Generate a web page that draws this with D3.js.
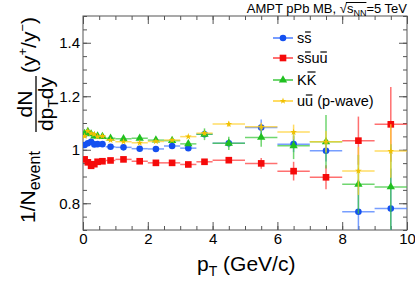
<!DOCTYPE html>
<html><head><meta charset="utf-8">
<script src="https://cdn.jsdelivr.net/npm/d3@7"></script>
<style>body{margin:0;background:#fff}svg{display:block}text{font-family:"Liberation Sans",Arial,sans-serif;fill:#000}</style>
</head><body><svg id="c" width="415" height="281"></svg>
<script>
// ---------- data ----------
const binEdges = [0,0.1,0.2,0.3,0.4,0.5,0.7,1.0,1.5,2.0,2.5,3.0,3.5,4,5,6,7,8,9,10];
const ssVals   = [1.018,1.024,1.030,1.020,1.021,1.021,1.011,1.009,1.004,1.003,1.014,1.006,1.058,1.024,1.083,1.021,0.996,0.768,0.780];
const ssErrs   = [0.004,0.004,0.004,0.004,0.004,0.004,0.003,0.003,0.003,0.004,0.004,0.005,0.008,0.015,0.030,0.030,0.040,0.120,0.150];
const ssuuVals = [0.964,0.953,0.940,0.946,0.955,0.957,0.960,0.964,0.957,0.951,0.951,0.945,0.955,0.961,0.949,0.920,0.897,1.034,1.095];
const ssuuErrs = [0.004,0.004,0.004,0.004,0.004,0.004,0.003,0.003,0.003,0.004,0.004,0.005,0.008,0.010,0.020,0.035,0.045,0.090,0.140];
const kkVals   = [1.061,1.068,1.059,1.051,1.051,1.049,1.043,1.041,1.043,1.036,1.034,1.022,1.058,1.024,1.046,1.015,1.030,0.871,0.861];
const kkErrs   = [0.005,0.005,0.005,0.005,0.005,0.005,0.004,0.004,0.004,0.005,0.005,0.008,0.022,0.025,0.035,0.050,0.100,0.110,0.160];
const uuVals   = [1.051,1.070,1.061,1.058,1.049,1.051,1.036,1.030,1.026,1.031,1.036,1.049,1.062,1.096,1.086,1.066,1.030,0.921,0.995];
const uuErrs   = [0.004,0.004,0.004,0.004,0.004,0.004,0.003,0.003,0.003,0.004,0.004,0.005,0.008,0.010,0.015,0.028,0.040,0.090,0.100];
const legendLabels = ["ss","ssuu","KK","uu (p-wave)"];
const legendBars   = [[1],[1,3],[1],[1]];
const xMajorTicks = [0,2,4,6,8,10];
const xTickLabels = ["0","2","4","6","8","10"];
const yMajorTicks = [0.8,1.0,1.2,1.4];
const yTickLabels = ["0.8","1","1.2","1.4"];
const xMinorTicks = d3.range(0,10.001,0.5);
const yMinorTicks = d3.range(0.7,1.5001,0.05).map(v=>+v.toFixed(2));

// ---------- setup ----------
const svg = d3.select("#c");
const L=83, R=407, T=16, B=230;
const x = d3.scaleLinear().domain([0,10]).range([L,R]);
const y = d3.scaleLinear().domain([0.7,1.5]).range([B,T]);
const axisColor = "#555";

svg.append("defs").append("clipPath").attr("id","clip")
  .append("rect").attr("x",L).attr("y",T).attr("width",R-L).attr("height",B-T);

function styleAxis(g){ g.select(".domain").remove(); g.selectAll("line").attr("stroke",axisColor); g.selectAll("text").style("font-size","15px").attr("fill","#000").style("font-family","'Liberation Sans',Arial,sans-serif"); }

const xlab = d => xTickLabels[xMajorTicks.indexOf(d)];
const ylab = d => yTickLabels[yMajorTicks.findIndex(v=>Math.abs(v-d)<1e-9)];
svg.append("g").attr("transform",`translate(0,${B})`).call(d3.axisBottom(x).tickValues(xMinorTicks).tickSize(-4).tickFormat("")).call(styleAxis);
svg.append("g").attr("transform",`translate(0,${B})`).call(d3.axisBottom(x).tickValues(xMajorTicks).tickSize(-8).tickPadding(3).tickFormat(xlab)).call(styleAxis);
svg.append("g").attr("transform",`translate(0,${T})`).call(d3.axisTop(x).tickValues(xMinorTicks).tickSize(-4).tickFormat("")).call(styleAxis);
svg.append("g").attr("transform",`translate(0,${T})`).call(d3.axisTop(x).tickValues(xMajorTicks).tickSize(-8).tickFormat("")).call(styleAxis);
svg.append("g").attr("transform",`translate(${L},0)`).call(d3.axisLeft(y).tickValues(yMinorTicks).tickSize(-4).tickFormat("")).call(styleAxis);
svg.append("g").attr("transform",`translate(${L},0)`).call(d3.axisLeft(y).tickValues(yMajorTicks).tickSize(-8).tickPadding(3).tickFormat(ylab)).call(styleAxis);
svg.append("g").attr("transform",`translate(${R},0)`).call(d3.axisRight(y).tickValues(yMinorTicks).tickSize(-4).tickFormat("")).call(styleAxis);
svg.append("g").attr("transform",`translate(${R},0)`).call(d3.axisRight(y).tickValues(yMajorTicks).tickSize(-8).tickFormat("")).call(styleAxis);
svg.append("rect").attr("x",L).attr("y",T).attr("width",R-L).attr("height",B-T).attr("fill","none").attr("stroke",axisColor).attr("stroke-width",1);

// ---------- series ----------
const series = [
  {vals:ssVals,   errs:ssErrs,   color:"#1450f0", line:"#4a7dff", sym:d3.symbolCircle,   size:34},
  {vals:ssuuVals, errs:ssuuErrs, color:"#f50a0a", line:"#ff4040", sym:d3.symbolSquare,   size:44},
  {vals:kkVals,   errs:kkErrs,   color:"#20c020", line:"#40c840", sym:d3.symbolTriangle, size:30},
  {vals:uuVals,   errs:uuErrs,   color:"#f0c000", line:"#ffd030", sym:d3.symbolStar,     size:14}
];
const plot = svg.append("g").attr("clip-path","url(#clip)");
series.forEach(s=>{
  const pts = s.vals.map((v,i)=>({lo:binEdges[i],hi:binEdges[i+1],c:(binEdges[i]+binEdges[i+1])/2,v,e:s.errs[i]}));
  const g = plot.append("g");
  g.selectAll(".h").data(pts).join("line")
    .attr("x1",d=>x(d.lo)).attr("x2",d=>x(d.hi)).attr("y1",d=>y(d.v)).attr("y2",d=>y(d.v))
    .attr("stroke",s.line).attr("stroke-width",1.5).attr("stroke-opacity",0.75);
  g.selectAll(".v").data(pts).join("line")
    .attr("x1",d=>x(d.c)).attr("x2",d=>x(d.c)).attr("y1",d=>y(d.v-d.e)).attr("y2",d=>y(d.v+d.e))
    .attr("stroke",s.line).attr("stroke-width",1.5).attr("stroke-opacity",0.75);
  g.selectAll("path").data(pts).join("path")
    .attr("d",d3.symbol().type(s.sym).size(s.size))
    .attr("transform",d=>`translate(${x(d.c)},${y(d.v)})`)
    .attr("fill",s.color);
});

// ---------- legend ----------
const legY = [38,58,80,101];
series.forEach((s,i)=>{
  const yy = legY[i];
  svg.append("line").attr("x1",273).attr("x2",293).attr("y1",yy).attr("y2",yy).attr("stroke",s.line).attr("stroke-width",1.5);
  svg.append("path").attr("d",d3.symbol().type(s.sym).size(s.size)).attr("transform",`translate(283,${yy})`).attr("fill",s.color);
  const t = svg.append("text").attr("x",297).attr("y",yy+5).style("font-size","14.5px").text(legendLabels[i]);
  const node = t.node();
  legendBars[i].forEach(ci=>{
    const ext = node.getExtentOfChar(ci);
    const isUpper = legendLabels[i][ci] === legendLabels[i][ci].toUpperCase();
    const by = yy+5 - (isUpper ? 13 : 11);
    svg.append("line").attr("x1",ext.x+0.8).attr("x2",ext.x+ext.width-0.8).attr("y1",by).attr("y2",by).attr("stroke","#000").attr("stroke-width",1.2);
  });
});

// ---------- title ----------
const title = svg.append("text").attr("x",407).attr("y",13).attr("text-anchor","end").style("font-size","13px");
title.append("tspan").text("AMPT pPb MB, ");
title.append("tspan").text("√");
title.append("tspan").text("s");
title.append("tspan").attr("dy",3).style("font-size","9px").text("NN");
title.append("tspan").attr("dy",-3).text("=5 TeV");
{
  const n = title.node();
  const txt = "AMPT pPb MB, √sNN";
  const a = n.getExtentOfChar(txt.indexOf("√"));
  const b = n.getExtentOfChar(txt.length-1);
  svg.append("line").attr("x1",a.x+a.width-1).attr("x2",b.x+b.width).attr("y1",2.5).attr("y2",2.5).attr("stroke","#000").attr("stroke-width",1);
}

// ---------- axis titles ----------
const xt = svg.append("text").attr("x",197).attr("y",271).style("font-size","21px");
xt.append("tspan").text("p");
xt.append("tspan").attr("dy",5).style("font-size","14px").text("T");
xt.append("tspan").attr("dy",-5).text(" (GeV/c)");

const yg = svg.append("g").attr("transform","translate(0,240) rotate(-90)");
const t1 = yg.append("text").attr("x",17).attr("y",35).style("font-size","21px");
t1.append("tspan").text("1/N");
t1.append("tspan").attr("dy",5).style("font-size","16px").text("event");
yg.append("text").attr("x",136).attr("y",32).attr("text-anchor","middle").style("font-size","21px").text("dN");
yg.append("line").attr("x1",108).attr("x2",164).attr("y1",36).attr("y2",36).attr("stroke","#000").attr("stroke-width",1.3);
const den = yg.append("text").attr("x",136).attr("y",53).attr("text-anchor","middle").style("font-size","21px");
den.append("tspan").text("dp");
den.append("tspan").attr("dy",5).style("font-size","14px").text("T");
den.append("tspan").attr("dy",-5).text("dy");
const t3 = yg.append("text").attr("x",167).attr("y",36).style("font-size","21px");
t3.append("tspan").text("(y");
t3.append("tspan").attr("dy",-9).style("font-size","13px").text("+");
t3.append("tspan").attr("dy",9).text("/y");
t3.append("tspan").attr("dy",-9).style("font-size","13px").text("−");
t3.append("tspan").attr("dy",9).text(")");
</script></body></html>
